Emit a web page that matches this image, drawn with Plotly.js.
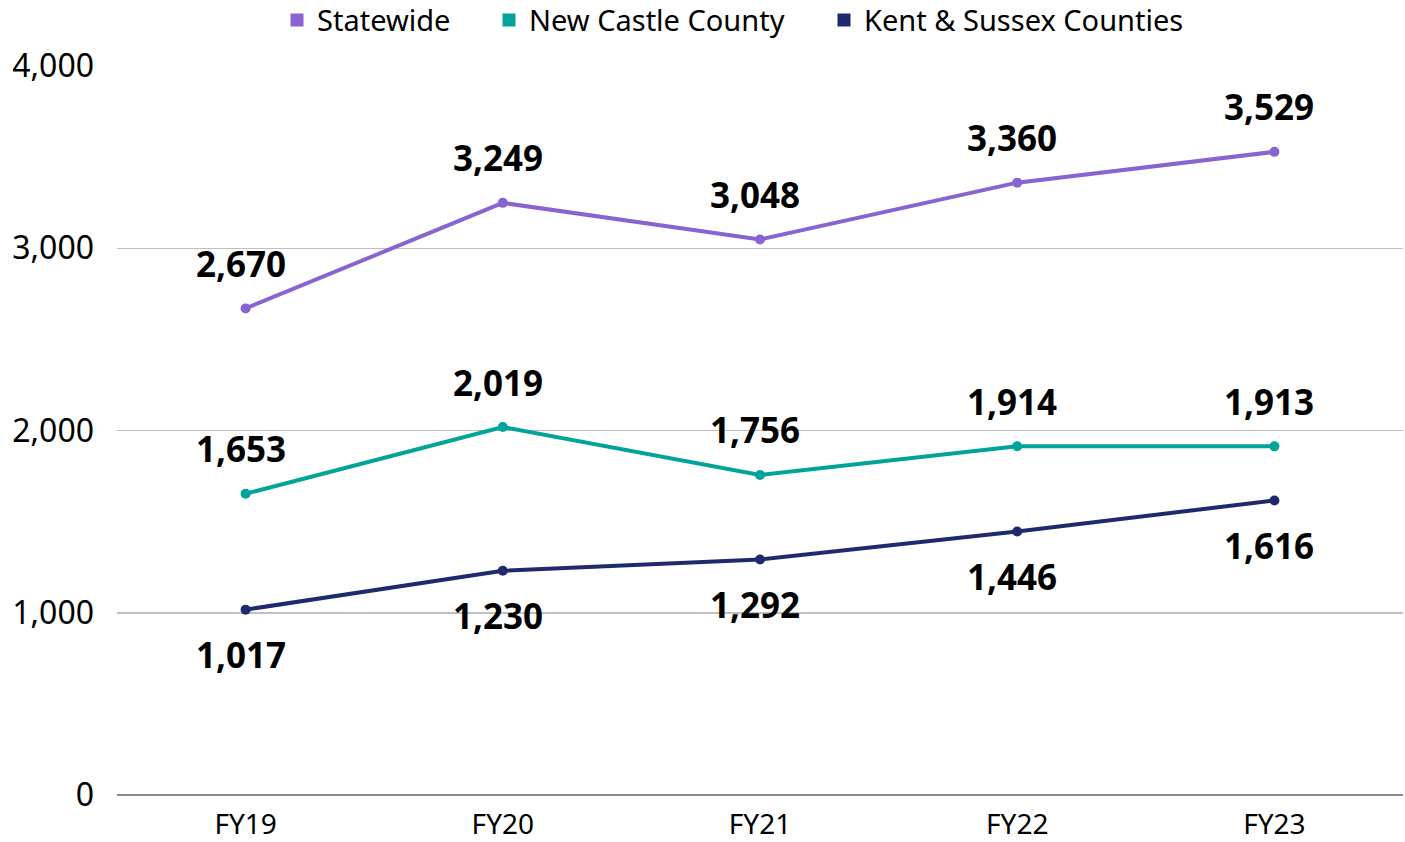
<!DOCTYPE html>
<html><head><meta charset="utf-8">
<script src="https://cdn.plot.ly/plotly-3.0.1.min.js"></script>
<style>html,body{margin:0;padding:0;background:#fff}#chart{width:1405px;height:842px}</style>
</head><body><div id="chart"></div>
<script>
const categories = ["FY19","FY20","FY21","FY22","FY23"];
const statewide = [2670,3249,3048,3360,3529];
const newCastle = [1653,2019,1756,1914,1913];
const kentSussex = [1017,1230,1292,1446,1616];
const seriesNames = ["Statewide","New Castle County","Kent & Sussex Counties"];
const colors = ["#8A63D2","#00A499","#1E2A6B"];
const seriesData = [statewide,newCastle,kentSussex];
const labelAbove = [true,true,false];
const legendIds = ["legend","legend2","legend3"];
const legendX = [277,489,824];

const FONT = "Noto Sans, sans-serif";
const traces = [];
seriesData.forEach((vals,i)=>{
  traces.push({x:categories,y:vals,type:'scatter',mode:'lines+markers',
    line:{color:colors[i],width:4},marker:{color:colors[i],size:10},
    showlegend:false,hoverinfo:'skip',cliponaxis:false});
});
seriesData.forEach((vals,i)=>{
  traces.push({x:[null],y:[null],type:'scatter',mode:'markers',name:seriesNames[i],
    marker:{color:colors[i],size:13,symbol:'square'},showlegend:true,legend:legendIds[i]});
});
const fmt = v => v.toLocaleString('en-US');
const annotations = [];
seriesData.forEach((vals,i)=>{
  vals.forEach((v,j)=>{
    annotations.push({x:categories[j],y:v,xref:'x',yref:'y',text:fmt(v),showarrow:false,
      yshift: labelAbove[i]? 45 : -45, xshift:-5,
      font:{family:FONT,size:35,color:'#000',weight:'bold'}});
  });
});
const layout = {
  width:1405,height:842,
  margin:{l:117,r:2,t:66,b:47,autoexpand:false},
  paper_bgcolor:'#fff',plot_bgcolor:'#fff',
  font:{family:FONT,color:'#000'},
  showlegend:true,
  xaxis:{type:'category',range:[-0.5,4.5],showgrid:false,zeroline:false,showline:false,
    ticks:'',tickfont:{family:FONT,size:28,color:'#000'},ticklabelstandoff:10},
  yaxis:{range:[0,4000],dtick:1000,tickformat:',d',showgrid:true,gridcolor:'#bfbfbf',gridwidth:1.5,
    zeroline:true,zerolinecolor:'#8c8c8c',zerolinewidth:1.5,showline:false,ticks:'',
    tickfont:{family:FONT,size:32,color:'#000'},ticklabelstandoff:22},
  annotations:annotations
};
legendIds.forEach((id,i)=>{
  layout[id] = {orientation:'h',x:legendX[i]/1405,xanchor:'left',xref:'container',
    y:0.976,yanchor:'middle',yref:'container',bgcolor:'rgba(0,0,0,0)',
    font:{family:FONT,size:29,color:'#000'},itemwidth:30};
});
Plotly.newPlot('chart',traces,layout,{displayModeBar:false,staticPlot:true});
</script></body></html>
